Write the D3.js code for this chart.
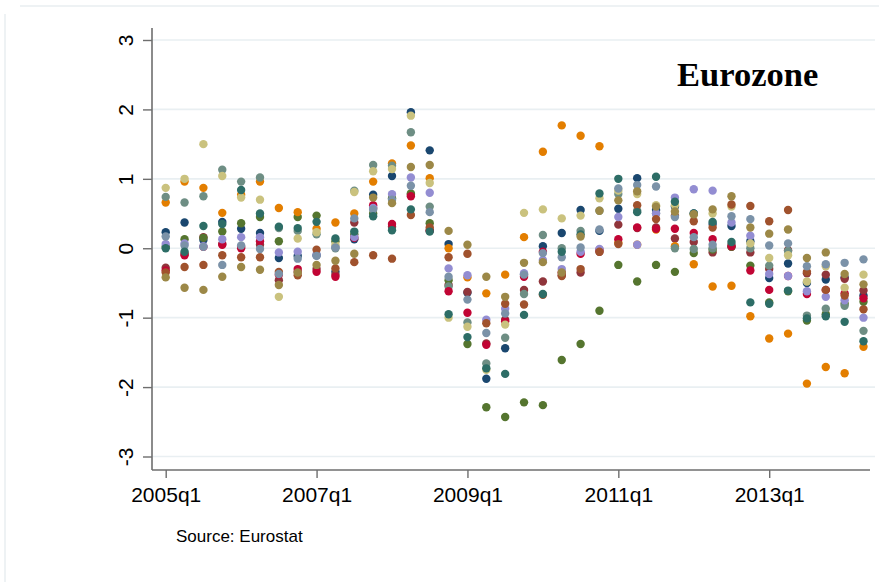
<!DOCTYPE html>
<html lang="en">
<head>
  <meta charset="utf-8">
  <script src="https://d3js.org/d3.v7.min.js"></script>
  <style>
    body { margin: 0; background: #fff; }
  </style>
</head>
<body>
  <svg id="chart" width="879" height="582"></svg>

  <script>
    // quarters 2005q1 .. 2014q2
    const quarters = [];
    for (let yr = 2005; yr <= 2014; yr++) {
      for (let q = 1; q <= 4; q++) {
        if (yr == 2014 && q > 2) break;
        quarters.push(yr + "q" + q);
      }
    }
    const xTickLabels = ["2005q1", "2007q1", "2009q1", "2011q1", "2013q1"];
    const yTicks = [-3, -2, -1, 0, 1, 2, 3];

    // one value per quarter
    const s1 = [0.23, 0.37, 0.12, 0.38, 0.28, 0.22, -0.14, -0.11, -0.1, -0.34, 0.13, 0.77, 1.04, 1.96, 1.41, 0.06, -0.64, -1.88, -1.44, -0.38, 0.03, 0.22, 0.55, 0.25, 0.57, 1.01, 0.55, 0.6, 0.5, 0.35, 0.32, 0.1, -0.43, -0.22, -0.5, -0.45, -0.42, -0.68];
    const s2 = [-0.28, -0.08, 0.16, 0.06, 0.02, 0.05, -0.46, -0.34, -0.3, -0.38, 0.37, 0.58, 0.31, 0.77, 0.26, -0.53, -0.63, -1.37, -1.03, -0.6, -0.48, -0.39, -0.35, -0.05, 0.34, 0.29, 0.3, 0.14, 0.09, -0.06, 0.02, -0.06, -0.3, -0.03, -0.36, -0.38, -0.44, -0.61];
    const s3 = [0.02, 0.13, 0.15, 0.24, 0.36, 0.45, 0.1, 0.45, 0.47, 0.1, 0.2, 0.5, 0.72, 0.79, 0.36, -0.46, -1.38, -2.29, -2.43, -2.22, -2.26, -1.61, -1.38, -0.9, -0.24, -0.48, -0.24, -0.34, -0.07, -0.02, 0.02, -0.25, -0.78, -0.62, -1.04, -0.95, -0.8, -0.77];
    const s4 = [0.66, 0.96, 0.87, 0.51, 0.77, 0.96, 0.58, 0.52, 0.28, 0.37, 0.5, 0.96, 1.22, 1.48, 1.01, 0.0, -0.42, -0.65, -0.38, 0.16, 1.39, 1.77, 1.62, 1.47, 0.08, 0.05, 0.27, 0.03, -0.23, -0.55, -0.54, -0.98, -1.3, -1.23, -1.95, -1.71, -1.8, -1.42];
    const s5 = [0.74, 0.66, 0.75, 1.13, 0.96, 1.02, 0.29, 0.25, 0.2, 0.0, 0.83, 1.2, 1.19, 1.67, 0.6, -0.55, -1.07, -1.66, -1.29, -0.66, 0.19, 0.0, 0.25, 0.54, 0.78, 0.54, 0.5, 0.0, -0.01, 0.0, 0.05, 0.0, -0.25, -0.04, -0.97, -0.87, -0.83, -1.19];
    const s6 = [-0.32, -0.1, 0.02, 0.05, 0.0, 0.1, -0.38, -0.3, -0.34, -0.41, 0.15, 0.62, 0.35, 0.75, 0.25, -0.62, -0.93, -1.39, -1.05, -0.41, -0.05, -0.35, -0.08, -0.02, 0.13, 0.3, 0.28, 0.28, 0.22, 0.13, 0.03, -0.32, -0.6, -0.4, -0.66, -0.6, -0.65, -0.72];
    const s7 = [0.06, 0.07, 0.03, 0.13, 0.16, 0.16, -0.06, -0.05, -0.1, 0.02, 0.16, 0.58, 0.78, 1.02, 0.8, -0.29, -0.39, -1.03, -0.87, -0.36, -0.17, -0.3, -0.05, -0.01, 0.45, 0.05, 0.5, 0.73, 0.85, 0.83, 0.37, 0.18, -0.37, -0.4, -0.62, -0.7, -0.75, -1.0];
    const s8 = [0.87, 1.0, 1.5, 1.04, 0.73, 0.7, -0.7, 0.14, 0.23, 0.05, 0.81, 1.11, 1.14, 1.91, 0.94, -1.0, -1.13, -1.75, -1.1, 0.51, 0.56, 0.43, 0.47, 0.72, 0.83, 0.78, 0.62, 0.62, 0.48, 0.5, 0.6, 0.07, -0.14, -0.1, -0.48, -0.26, -0.57, -0.38];
    const s9 = [-0.35, -0.27, -0.24, -0.1, -0.13, -0.13, -0.34, -0.39, -0.02, -0.29, -0.2, -0.1, -0.15, 0.48, 0.3, -0.13, -0.08, -1.08, -0.8, -0.81, -0.67, -0.4, -0.3, -0.05, 0.06, 0.62, 0.42, 0.47, 0.39, 0.3, 0.63, 0.61, 0.39, 0.55, -0.34, -0.6, -0.68, -0.88];
    const s10 = [0.17, 0.04, 0.02, -0.24, 0.04, -0.01, -0.37, -0.15, -0.11, 0.01, 0.43, 0.56, 0.7, 0.9, 0.52, -0.41, -0.74, -1.22, -0.94, -0.38, -0.07, -0.13, 0.01, 0.27, 0.86, 0.91, 0.89, 0.45, 0.16, 0.05, 0.46, 0.42, 0.04, 0.07, -0.26, -0.23, -0.21, -0.16];
    const s11 = [0.0, -0.05, 0.32, 0.35, 0.84, 0.5, 0.31, 0.29, 0.38, 0.14, 0.24, 0.46, 0.26, 0.56, 0.24, -0.95, -1.28, -1.73, -1.81, -0.96, -0.66, -0.05, 0.2, 0.79, 1.0, 0.52, 1.03, 0.67, 0.5, 0.38, 0.09, -0.78, -0.8, -0.61, -1.01, -0.98, -1.06, -1.34];
    const s12 = [-0.42, -0.57, -0.6, -0.41, -0.27, -0.31, -0.53, -0.35, -0.24, -0.18, -0.08, 0.73, 0.65, 1.17, 1.2, 0.25, 0.05, -0.41, -0.7, -0.21, -0.2, -0.35, 0.17, 0.54, 0.69, 0.82, 0.6, 0.53, 0.49, 0.56, 0.75, 0.3, 0.21, 0.27, -0.14, -0.06, -0.37, -0.52];

    const series = [s1, s2, s3, s4, s5, s6, s7, s8, s9, s10, s11, s12];
    // stata s2color order
    const colors = ["#1a476f", "#90353b", "#55752f", "#e37e00", "#6e8e84", "#c10534",
      "#938dd2", "#cac27e", "#a0522d", "#7b92a8", "#2d6d66", "#9c8847"];

    const svg = d3.select("svg#chart");

    // faint outer frame
    svg.append("line").attr("x1", 20).attr("x2", 879).attr("y1", 6).attr("y2", 6)
      .style("stroke", "#e8eef0").style("stroke-width", 1.5);
    svg.append("line").attr("x1", 5).attr("x2", 5).attr("y1", 14).attr("y2", 582)
      .style("stroke", "#e8eef0").style("stroke-width", 1.5);

    const plotLeft = 152, plotRight = 875, plotTop = 28, plotBottom = 470;

    let x = d3.scaleLinear()
      .domain([0, quarters.length - 1])
      .range([165.7, 863.5]);
    let y = d3.scaleLinear()
      .domain([-3, 3])
      .range([456.5, 40]);

    // gridlines
    svg.append("g")
      .selectAll("line")
      .data(yTicks)
      .join("line")
      .attr("x1", plotLeft)
      .attr("x2", plotRight)
      .attr("y1", d => y(d))
      .attr("y2", d => y(d))
      .style("stroke", "#e9eff2")
      .style("stroke-width", 1.6);

    // y axis (plain hyphen for minus, like the original)
    const yAxis = svg.append("g")
      .attr("transform", "translate(" + plotLeft + ",0)")
      .call(d3.axisLeft(y).tickValues(yTicks).tickSize(9).tickFormat(d => String(d)));
    yAxis.select(".domain").remove();
    yAxis.selectAll(".tick line").style("stroke", "#6e6e6e").style("stroke-width", 1.4);
    yAxis.selectAll(".tick text")
      .attr("x", 0).attr("dy", null).attr("y", 0)
      .attr("transform", "translate(-19,0) rotate(-90)")
      .attr("text-anchor", "middle")
      .style("font-family", "Arial, 'Liberation Sans', sans-serif")
      .style("font-size", "21px")
      .style("fill", "#000");

    // x axis
    const xIdx = xTickLabels.map(l => quarters.indexOf(l));
    const xAxis = svg.append("g")
      .attr("transform", "translate(0," + plotBottom + ")")
      .call(d3.axisBottom(x).tickValues(xIdx).tickSize(8).tickFormat(d => quarters[d]));
    xAxis.select(".domain").remove();
    xAxis.selectAll(".tick line").style("stroke", "#6e6e6e").style("stroke-width", 1.4);
    xAxis.selectAll(".tick text")
      .attr("y", 32).attr("dy", null)
      .style("font-family", "Arial, 'Liberation Sans', sans-serif")
      .style("font-size", "21px")
      .style("fill", "#000");

    // axis lines
    svg.append("line").attr("x1", plotLeft).attr("x2", plotLeft).attr("y1", plotTop).attr("y2", plotBottom)
      .style("stroke", "#6e6e6e").style("stroke-width", 1.6);
    svg.append("line").attr("x1", plotLeft).attr("x2", plotRight - 5).attr("y1", plotBottom).attr("y2", plotBottom)
      .style("stroke", "#6e6e6e").style("stroke-width", 1.6);

    // points, later series on top
    series.forEach((vals, k) => {
      svg.append("g")
        .selectAll("circle")
        .data(vals)
        .join("circle")
        .attr("cx", (d, i) => x(i))
        .attr("cy", d => y(d))
        .attr("r", 4.2)
        .style("fill", colors[k]);
    });

    svg.append("text")
      .attr("x", 677).attr("y", 86)
      .style("font-family", "'Liberation Serif', 'Times New Roman', serif")
      .style("font-weight", "bold")
      .style("font-size", "34.5px")
      .text("Eurozone");

    svg.append("text")
      .attr("x", 176).attr("y", 542)
      .style("font-family", "Arial, 'Liberation Sans', sans-serif")
      .style("font-size", "17px")
      .text("Source: Eurostat");
  </script>
</body>
</html>
